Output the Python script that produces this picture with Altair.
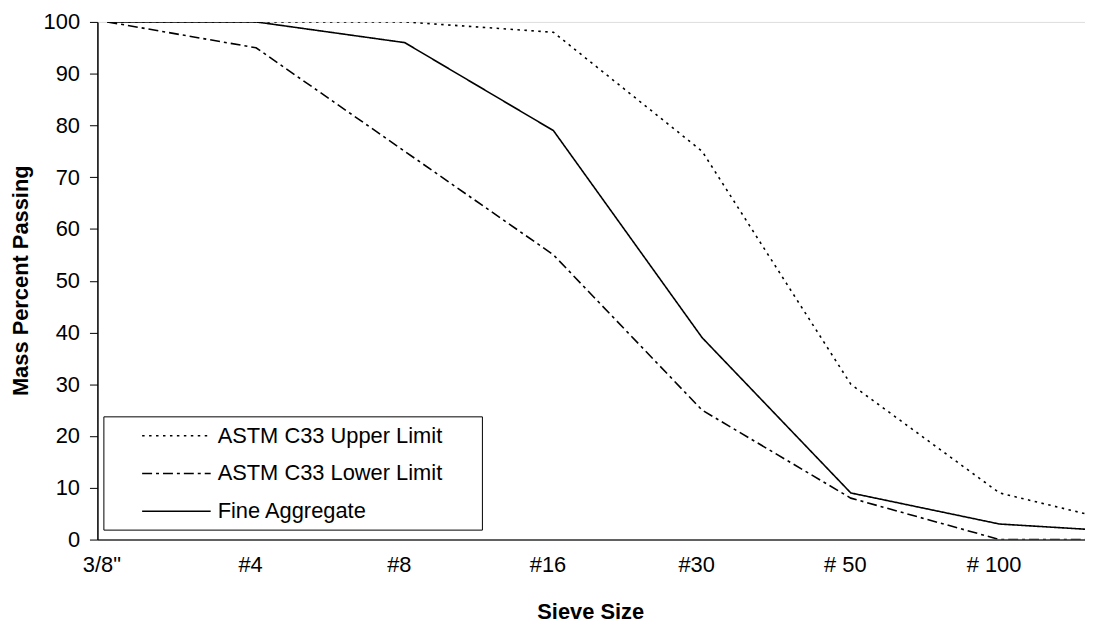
import json
import altair as alt
import pandas as pd

# Sieve labels (tick labels) and data
sieves = ['3/8"', '#4', '#8', '#16', '#30', '# 50', '# 100']
# x position index of each data point (last point is the end of the axis, unlabeled)
x_index = [0, 1, 2, 3, 4, 5, 6, 6.575]
upper = [100, 100, 100, 98, 75, 30, 9, 5]
lower = [100, 95, 75, 55, 25, 8, 0, 0]
fine = [100, 100, 96, 79, 39, 9, 3, 2]

series_names = ["ASTM C33 Upper Limit", "ASTM C33 Lower Limit", "Fine Aggregate"]
series_values = [upper, lower, fine]

rows = []
for name, vals in zip(series_names, series_values):
    for xi, v in zip(x_index, vals):
        rows.append({"x": xi, "y": v, "series": name})
df = pd.DataFrame(rows)

FONT = "Liberation Sans"
label_list = json.dumps(sieves)

chart = alt.Chart(df).mark_line(color="black", strokeWidth=1.6, clip=True).encode(
    x=alt.X(
        "x:Q",
        scale=alt.Scale(domain=[-0.067, 6.575], nice=False, zero=False),
        axis=alt.Axis(
            values=list(range(len(sieves))),
            labelExpr=f"{label_list}[datum.value]",
            title="Sieve Size",
            ticks=False,
            tickSize=0,
            grid=False,
            labelPadding=15,
            labelOffset=-6,
            labelFontSize=22,
            labelFont=FONT,
            labelColor="black",
            domainColor="#333333",
            domainWidth=1.5,
            titleFont=FONT,
            titleFontSize=22,
            titleFontWeight="bold",
            titleColor="black",
            titleX=496,
            titleY=72,
            titleAlign="center",
            titleBaseline="middle",
        ),
    ),
    y=alt.Y(
        "y:Q",
        scale=alt.Scale(domain=[0, 100], nice=False),
        axis=alt.Axis(
            values=list(range(0, 101, 10)),
            title="Mass Percent Passing",
            grid=False,
            tickSize=8,
            tickColor="black",
            labelPadding=10,
            labelFontSize=22,
            labelFont=FONT,
            labelColor="black",
            domainColor="black",
            domainWidth=1.5,
            titleFont=FONT,
            titleFontSize=22,
            titleFontWeight="bold",
            titleColor="black",
            titleAngle=270,
            titleX=-77,
            titleY=260,
            titleAlign="center",
            titleBaseline="middle",
        ),
    ),
    strokeDash=alt.StrokeDash(
        "series:N",
        scale=alt.Scale(domain=series_names, range=[[2.5, 4.5], [10, 4, 3, 4], [1, 0]]),
        legend=alt.Legend(
            title=None,
            orient="none",
            legendX=6,
            legendY=397,
            padding=7,
            rowPadding=14,
            symbolOffset=31,
            symbolSize=529,
            symbolType="M-1,0H5",
            symbolStrokeColor="black",
            symbolFillColor="transparent",
            symbolStrokeWidth=1.6,
            labelOffset=52,
            labelFont=FONT,
            labelFontSize=22,
            labelColor="black",
            labelLimit=500,
            labelExpr="datum.label + '\\u2800\\u2800'",
            strokeColor="black",
            fillColor="white",
        ),
    ),
    order=alt.Order("x:Q"),
).properties(
    width=994,
    height=521,
    autosize=alt.AutoSizeParams(type="none"),
    padding={"left": 90, "top": 12, "right": 0, "bottom": 84},
).configure_view(
    stroke="#999999",
    strokeWidth=1.5,
).configure(background="white")

chart.save("out.html", embed_options={"renderer": "svg", "actions": False})
